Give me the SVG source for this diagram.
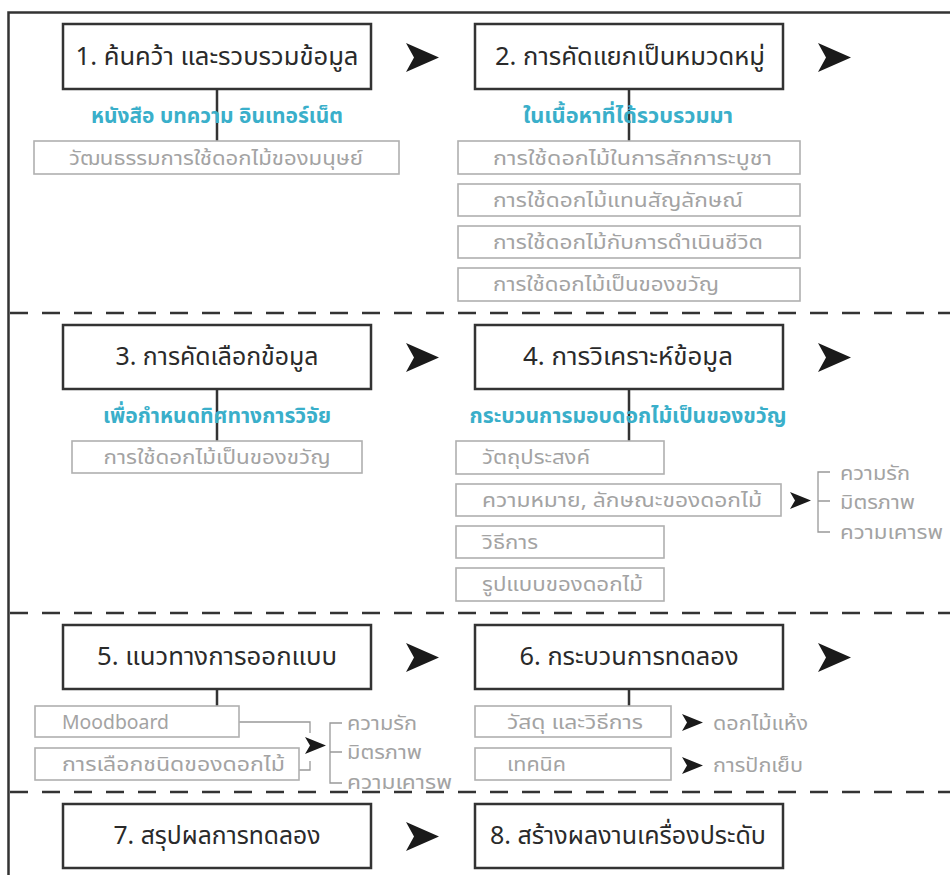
<svg xmlns="http://www.w3.org/2000/svg" xmlns:xlink="http://www.w3.org/1999/xlink" width="950" height="875" viewBox="0 0 950 875">
<style>
text{font-family:"Noto Sans Thai","Noto Sans","Liberation Sans",sans-serif}
.main{fill:#fff;stroke:#333;stroke-width:2.5}
.mt{font-size:25px;fill:#2a2a2a;text-anchor:middle}
.blue{font-size:21px;font-weight:bold;fill:#3aafca;text-anchor:middle}
.gbox{fill:#fff;stroke:#b0b0b0;stroke-width:1.6}
.gt{font-size:20px;fill:#a3a3a3}
.gtc{font-size:20px;fill:#a3a3a3;text-anchor:middle}
.ln{stroke:#333;stroke-width:2.5;fill:none}
.thin{stroke:#999;stroke-width:1.3;fill:none}
.dash{stroke:#333;stroke-width:2.5;stroke-dasharray:18 14;fill:none}
.arr{fill:#1a1a1a}
</style>
<defs>
<path id="big" d="M0,0 L33,14.5 L0,29 L8,14.5 Z"/>
<path id="small" d="M0,0 L21,8.5 L0,17 L5,8.5 Z"/>
</defs>
<rect width="950" height="875" fill="#fff"/>
<g id="frame">
<path class="ln" d="M8.5,875 V12.5 H950"/>
<path class="dash" d="M10,313 H950 M10,613 H950 M10,792 H950"/>
</g>
<g id="connectors">
<path class="ln" d="M217,89 V141 M629,89 V141 M217,389 V441 M629,389 V441 M217,689 V706 M629,689 V706"/>
<path class="thin" d="M239,722 H310 V733 M299,770 H310 V761"/>
<path class="thin" d="M830,472 H818 V532 H830 M818,501 H830"/>
<path class="thin" d="M342,723 H330 V783 H342 M330,752 H342"/>
<use href="#big" class="arr" x="406" y="43"/>
<use href="#big" class="arr" x="818" y="43"/>
<use href="#big" class="arr" x="406" y="343"/>
<use href="#big" class="arr" x="818" y="343"/>
<use href="#big" class="arr" x="406" y="643"/>
<use href="#big" class="arr" x="818" y="643"/>
<use href="#big" class="arr" x="406" y="822"/>
<use href="#small" class="arr" x="790" y="492"/>
<use href="#small" class="arr" x="305" y="737"/>
<use href="#small" class="arr" x="682" y="714"/>
<use href="#small" class="arr" x="682" y="757"/>
</g>
<g id="n1">
<rect class="main" x="63" y="24" width="308" height="65"/>
<text class="mt" x="217" y="65" textLength="283" lengthAdjust="spacingAndGlyphs">1. ค้นคว้า และรวบรวมข้อมูล</text>
</g>
<g id="l1"><text class="blue" x="217" y="123" textLength="252" lengthAdjust="spacingAndGlyphs">หนังสือ บทความ อินเทอร์เน็ต</text></g>
<g id="g1">
<rect class="gbox" x="34" y="141" width="365" height="33"/>
<text class="gtc" x="216" y="165" textLength="294" lengthAdjust="spacingAndGlyphs">วัฒนธรรมการใช้ดอกไม้ของมนุษย์</text>
</g>
<g id="n2">
<rect class="main" x="475" y="24" width="308" height="65"/>
<text class="mt" x="630" y="65" textLength="270" lengthAdjust="spacingAndGlyphs">2. การคัดแยกเป็นหมวดหมู่</text>
</g>
<g id="l2"><text class="blue" x="628" y="123" textLength="210" lengthAdjust="spacingAndGlyphs">ในเนื้อหาที่ได้รวบรวมมา</text></g>
<g id="g2">
<rect class="gbox" x="458" y="141" width="342" height="33"/>
<text class="gt" x="493" y="165" textLength="279" lengthAdjust="spacingAndGlyphs">การใช้ดอกไม้ในการสักการะบูชา</text>
<rect class="gbox" x="458" y="184" width="342" height="32"/>
<text class="gt" x="493" y="207" textLength="250" lengthAdjust="spacingAndGlyphs">การใช้ดอกไม้แทนสัญลักษณ์</text>
<rect class="gbox" x="458" y="226" width="342" height="32"/>
<text class="gt" x="493" y="249" textLength="270" lengthAdjust="spacingAndGlyphs">การใช้ดอกไม้กับการดำเนินชีวิต</text>
<rect class="gbox" x="458" y="268" width="342" height="33"/>
<text class="gt" x="493" y="291" textLength="226" lengthAdjust="spacingAndGlyphs">การใช้ดอกไม้เป็นของขวัญ</text>
</g>
<g id="n3">
<rect class="main" x="63" y="325" width="308" height="64"/>
<text class="mt" x="217" y="365" textLength="203" lengthAdjust="spacingAndGlyphs">3. การคัดเลือกข้อมูล</text>
</g>
<g id="l3"><text class="blue" x="217" y="423" textLength="228" lengthAdjust="spacingAndGlyphs">เพื่อกำหนดทิศทางการวิจัย</text></g>
<g id="g3">
<rect class="gbox" x="72" y="441" width="290" height="32"/>
<text class="gtc" x="217" y="464" textLength="227" lengthAdjust="spacingAndGlyphs">การใช้ดอกไม้เป็นของขวัญ</text>
</g>
<g id="n4">
<rect class="main" x="475" y="325" width="308" height="64"/>
<text class="mt" x="628" y="365" textLength="210" lengthAdjust="spacingAndGlyphs">4. การวิเคราะห์ข้อมูล</text>
</g>
<g id="l4"><text class="blue" x="628" y="423" textLength="317" lengthAdjust="spacingAndGlyphs">กระบวนการมอบดอกไม้เป็นของขวัญ</text></g>
<g id="g4">
<rect class="gbox" x="456" y="441" width="208" height="33"/>
<text class="gt" x="482" y="464" textLength="108" lengthAdjust="spacingAndGlyphs">วัตถุประสงค์</text>
<rect class="gbox" x="456" y="484" width="325" height="32"/>
<text class="gt" x="482" y="507" textLength="280" lengthAdjust="spacingAndGlyphs">ความหมาย, ลักษณะของดอกไม้</text>
<rect class="gbox" x="456" y="526" width="208" height="32"/>
<text class="gt" x="482" y="549" textLength="56" lengthAdjust="spacingAndGlyphs">วิธีการ</text>
<rect class="gbox" x="456" y="568" width="208" height="33"/>
<text class="gt" x="482" y="591" textLength="161" lengthAdjust="spacingAndGlyphs">รูปแบบของดอกไม้</text>
</g>
<g id="b4">
<text class="gt" x="840" y="480" textLength="70" lengthAdjust="spacingAndGlyphs">ความรัก</text>
<text class="gt" x="840" y="509" textLength="75" lengthAdjust="spacingAndGlyphs">มิตรภาพ</text>
<text class="gt" x="840" y="539" textLength="103" lengthAdjust="spacingAndGlyphs">ความเคารพ</text>
</g>
<g id="n5">
<rect class="main" x="63" y="625" width="308" height="64"/>
<text class="mt" x="217" y="665" textLength="240" lengthAdjust="spacingAndGlyphs">5. แนวทางการออกแบบ</text>
</g>
<g id="g5">
<rect class="gbox" x="35" y="706" width="204" height="31"/>
<text class="gt" x="62" y="729" textLength="107" lengthAdjust="spacingAndGlyphs">Moodboard</text>
<rect class="gbox" x="35" y="748" width="264" height="32"/>
<text class="gt" x="62" y="771" textLength="223" lengthAdjust="spacingAndGlyphs">การเลือกชนิดของดอกไม้</text>
</g>
<g id="b5">
<text class="gt" x="347" y="730" textLength="70" lengthAdjust="spacingAndGlyphs">ความรัก</text>
<text class="gt" x="347" y="759" textLength="75" lengthAdjust="spacingAndGlyphs">มิตรภาพ</text>
<text class="gt" x="347" y="789" textLength="105" lengthAdjust="spacingAndGlyphs">ความเคารพ</text>
</g>
<g id="n6">
<rect class="main" x="475" y="625" width="308" height="64"/>
<text class="mt" x="629" y="665" textLength="219" lengthAdjust="spacingAndGlyphs">6. กระบวนการทดลอง</text>
</g>
<g id="g6">
<rect class="gbox" x="475" y="706" width="196" height="31"/>
<text class="gt" x="507" y="729" textLength="136" lengthAdjust="spacingAndGlyphs">วัสดุ และวิธีการ</text>
<rect class="gbox" x="475" y="748" width="196" height="32"/>
<text class="gt" x="507" y="771" textLength="59" lengthAdjust="spacingAndGlyphs">เทคนิค</text>
<text class="gt" x="713" y="730" textLength="95" lengthAdjust="spacingAndGlyphs">ดอกไม้แห้ง</text>
<text class="gt" x="713" y="772" textLength="90" lengthAdjust="spacingAndGlyphs">การปักเย็บ</text>
</g>
<g id="n7">
<rect class="main" x="63" y="804" width="308" height="64"/>
<text class="mt" x="217" y="844" textLength="207" lengthAdjust="spacingAndGlyphs">7. สรุปผลการทดลอง</text>
</g>
<g id="n8">
<rect class="main" x="475" y="804" width="308" height="64"/>
<text class="mt" x="628" y="844" textLength="276" lengthAdjust="spacingAndGlyphs">8. สร้างผลงานเครื่องประดับ</text>
</g>
</svg>
